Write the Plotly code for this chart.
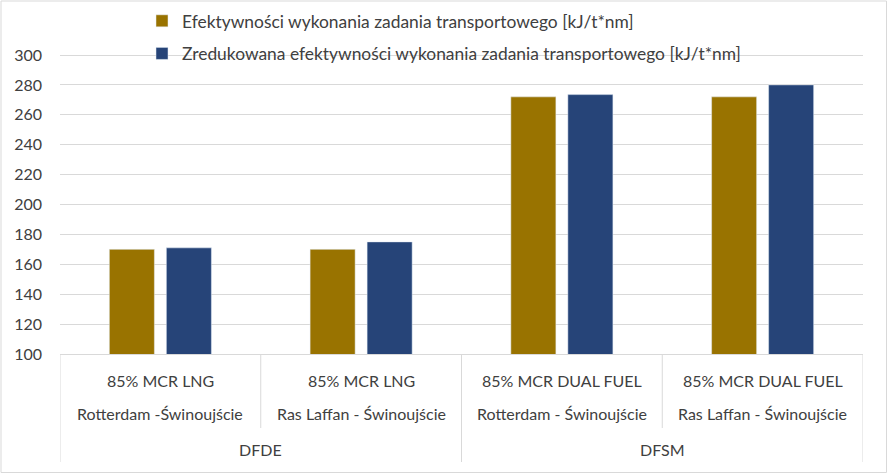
import plotly.graph_objects as go

categories = [
    "85% MCR LNG|Rotterdam -Świnoujście",
    "85% MCR LNG|Ras Laffan - Świnoujście",
    "85% MCR DUAL FUEL|Rotterdam - Świnoujście",
    "85% MCR DUAL FUEL|Ras Laffan - Świnoujście",
]
label_line1 = ["85% MCR LNG", "85% MCR LNG", "85% MCR DUAL FUEL", "85% MCR DUAL FUEL"]
label_line2 = ["Rotterdam -Świnoujście", "Ras Laffan - Świnoujście",
               "Rotterdam - Świnoujście", "Ras Laffan - Świnoujście"]
groups = ["DFDE", "DFSM"]
group_span = [(0, 1), (2, 3)]
y_ticks = [100, 120, 140, 160, 180, 200, 220, 240, 260, 280, 300]

series1_name = "Efektywności wykonania zadania transportowego [kJ/t*nm]"
series2_name = "Zredukowana efektywności wykonania zadania transportowego [kJ/t*nm]"
series1 = [170, 170, 272, 272]
series2 = [171, 175, 273.5, 280]

FONT = "Lato"
TXT = "#404040"
GRID = "#D9D9D9"

# layout geometry (pixels)
T, B, L, R = 1, 354, 60, 863
PX_PER_UNIT = 299 / 200.0
y_top = 100 + (B - T) / PX_PER_UNIT

fig = go.Figure()
fig.add_trace(go.Bar(x=categories, y=series1, name=series1_name,
                     marker_color="#997300", legendgroup="a"))
fig.add_trace(go.Bar(x=categories, y=series2, name=series2_name,
                     marker_color="#264478", legendgroup="b"))

def py(Y):
    return (B - Y) / float(B - T)

def px(X):
    return (X - L) / float(R - L)

def xcat(X):
    # pixel -> category coordinate
    return -0.5 + (X - L) / ((R - L) / float(len(categories)))

annotations = []
for i, c in enumerate(categories):
    annotations.append(dict(x=c, y=py(380), xref="x", yref="paper", text=label_line1[i],
                            showarrow=False, yanchor="middle", xanchor="center",
                            font=dict(family=FONT, size=16, color=TXT)))
    annotations.append(dict(x=c, y=py(413), xref="x", yref="paper", text=label_line2[i],
                            showarrow=False, yanchor="middle", xanchor="center",
                            font=dict(family=FONT, size=16, color=TXT)))
for g, (a, b) in zip(groups, group_span):
    annotations.append(dict(x=(a + b) / 2, y=py(450), xref="x", yref="paper", text=g,
                            showarrow=False, yanchor="middle", xanchor="center",
                            font=dict(family=FONT, size=16, color=TXT)))

shapes = []
for xv in [-0.5, 1.5, 3.5]:
    shapes.append(dict(type="line", xref="x", yref="paper", x0=xv, x1=xv,
                       y0=0, y1=py(462), line=dict(color=GRID, width=1)))
for xv in [0.5, 2.5]:
    shapes.append(dict(type="line", xref="x", yref="paper", x0=xv, x1=xv,
                       y0=0, y1=py(428), line=dict(color=GRID, width=1)))
# white patch hiding the top gridline behind the legend (subplot layer, above grid)
shapes.append(dict(type="rect", xref="x", yref="y",
                   x0=xcat(93), x1=xcat(800), y0=296, y1=304,
                   fillcolor="white", line=dict(width=0), layer="below"))
shapes.append(dict(type="rect", xref="paper", yref="paper",
                   x0=px(1), x1=px(886.5), y0=py(472.5), y1=py(1),
                   fillcolor="rgba(0,0,0,0)", line=dict(color=GRID, width=1)))

fig.update_layout(
    width=888, height=474,
    margin=dict(l=L, r=888 - R, t=T, b=474 - B, pad=0),
    paper_bgcolor="white", plot_bgcolor="white",
    barmode="group", bargap=0.432, bargroupgap=0.21,
    font=dict(family=FONT, size=16, color=TXT),
    showlegend=True,
    legend=dict(x=px(142), y=py(3), xanchor="left", yanchor="top",
                bgcolor="rgba(0,0,0,0)", tracegroupgap=7,
                font=dict(family=FONT, size=17.4, color=TXT)),
    annotations=annotations,
    shapes=shapes,
)
fig.update_xaxes(range=[-0.5, 3.5], showticklabels=False, showgrid=False,
                 showline=True, linecolor=GRID, linewidth=1, ticks="",
                 categoryorder="array", categoryarray=categories)
fig.update_yaxes(range=[100, y_top], tickmode="array", tickvals=y_ticks,
                 showgrid=True, gridcolor=GRID,
                 gridwidth=1, zeroline=False, showline=False, ticks="",
                 ticklabelstandoff=17, tickfont=dict(family=FONT, size=16, color=TXT))

fig.write_html("out.html", config={"displayModeBar": False},
               post_script="document.body.style.margin='0';document.body.style.overflow='hidden';")
